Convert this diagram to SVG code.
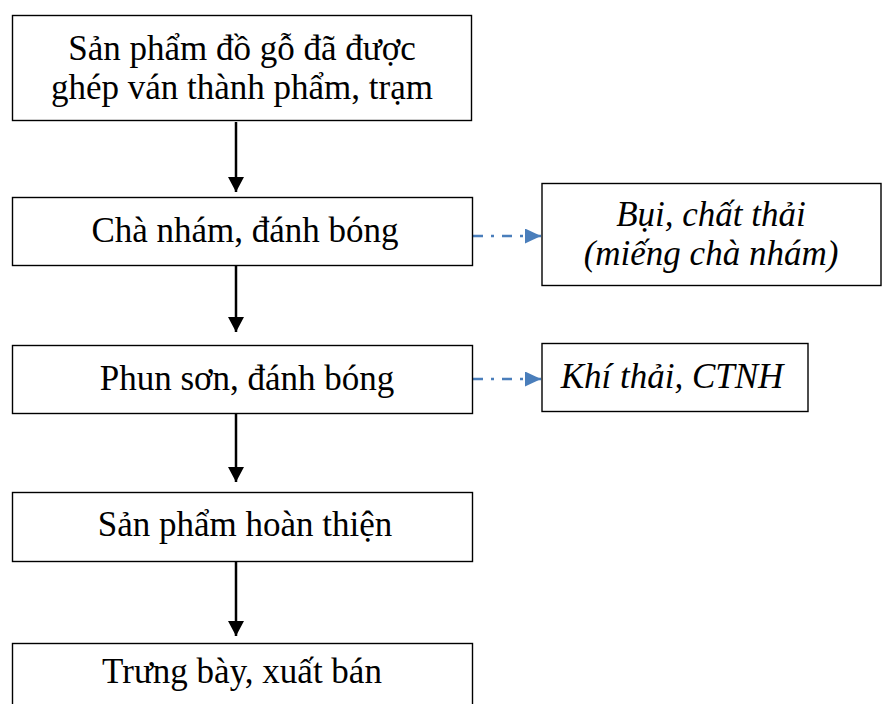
<svg xmlns="http://www.w3.org/2000/svg" width="883" height="704" viewBox="0 0 883 704">
<defs>
<style>
.box{fill:#fff;stroke:#000;stroke-width:1.4}
.t{font-family:"Liberation Serif","Times New Roman",serif;font-size:35px;fill:#000;text-anchor:middle}
.i{font-style:italic}
.flow{stroke:#000;stroke-width:2.5;fill:none}
.side{stroke:#4a7ebb;stroke-width:2.6;fill:none;stroke-dasharray:10 8 3 8}
</style>
<marker id="ah" markerWidth="15" markerHeight="16" refX="15" refY="8" orient="auto" markerUnits="userSpaceOnUse" viewBox="0 0 15 16">
<path d="M0,0 L15,8 L0,16 Z" fill="#000"/>
</marker>
<marker id="bh" markerWidth="16" markerHeight="15" refX="16" refY="7.5" orient="auto" markerUnits="userSpaceOnUse" viewBox="0 0 16 15">
<path d="M0,0 L16,7.5 L0,15 Z" fill="#4a7ebb"/>
</marker>
</defs>
<g id="connectors">
<line class="flow" x1="236" y1="122" x2="236" y2="192" marker-end="url(#ah)"/>
<line class="flow" x1="236" y1="266" x2="236" y2="332" marker-end="url(#ah)"/>
<line class="flow" x1="236" y1="414" x2="236" y2="482" marker-end="url(#ah)"/>
<line class="flow" x1="236" y1="558" x2="236" y2="636" marker-end="url(#ah)"/>
<line class="side" x1="473" y1="236" x2="541" y2="236" marker-end="url(#bh)"/>
<line class="side" x1="473" y1="379" x2="541" y2="379" marker-end="url(#bh)"/>
</g>
<g id="n1">
<rect class="box" x="12.5" y="15.5" width="459" height="105"/>
<text class="t" x="242" y="60">Sản phẩm đồ gỗ đã được</text>
<text class="t" x="242" y="99">ghép ván thành phẩm, trạm</text>
</g>
<g id="n2">
<rect class="box" x="12.5" y="197.5" width="460" height="68"/>
<text class="t" x="245" y="242">Chà nhám, đánh bóng</text>
</g>
<g id="n3">
<rect class="box" x="12.5" y="345.5" width="460" height="68"/>
<text class="t" x="247" y="390">Phun sơn, đánh bóng</text>
</g>
<g id="n4">
<rect class="box" x="12.5" y="492.5" width="460" height="69"/>
<text class="t" x="245" y="536">Sản phẩm hoàn thiện</text>
</g>
<g id="n5">
<rect class="box" x="12.5" y="643.5" width="460" height="70"/>
<text class="t" x="242" y="683">Trưng bày, xuất bán</text>
</g>
<g id="s1">
<rect class="box" x="542" y="183.5" width="339" height="102"/>
<text class="t i" x="711" y="226">Bụi, chất thải</text>
<text class="t i" x="711" y="265">(miếng chà nhám)</text>
</g>
<g id="s2">
<rect class="box" x="542" y="343.5" width="266" height="68"/>
<text class="t i" x="672" y="388">Khí thải, CTNH</text>
</g>
</svg>
